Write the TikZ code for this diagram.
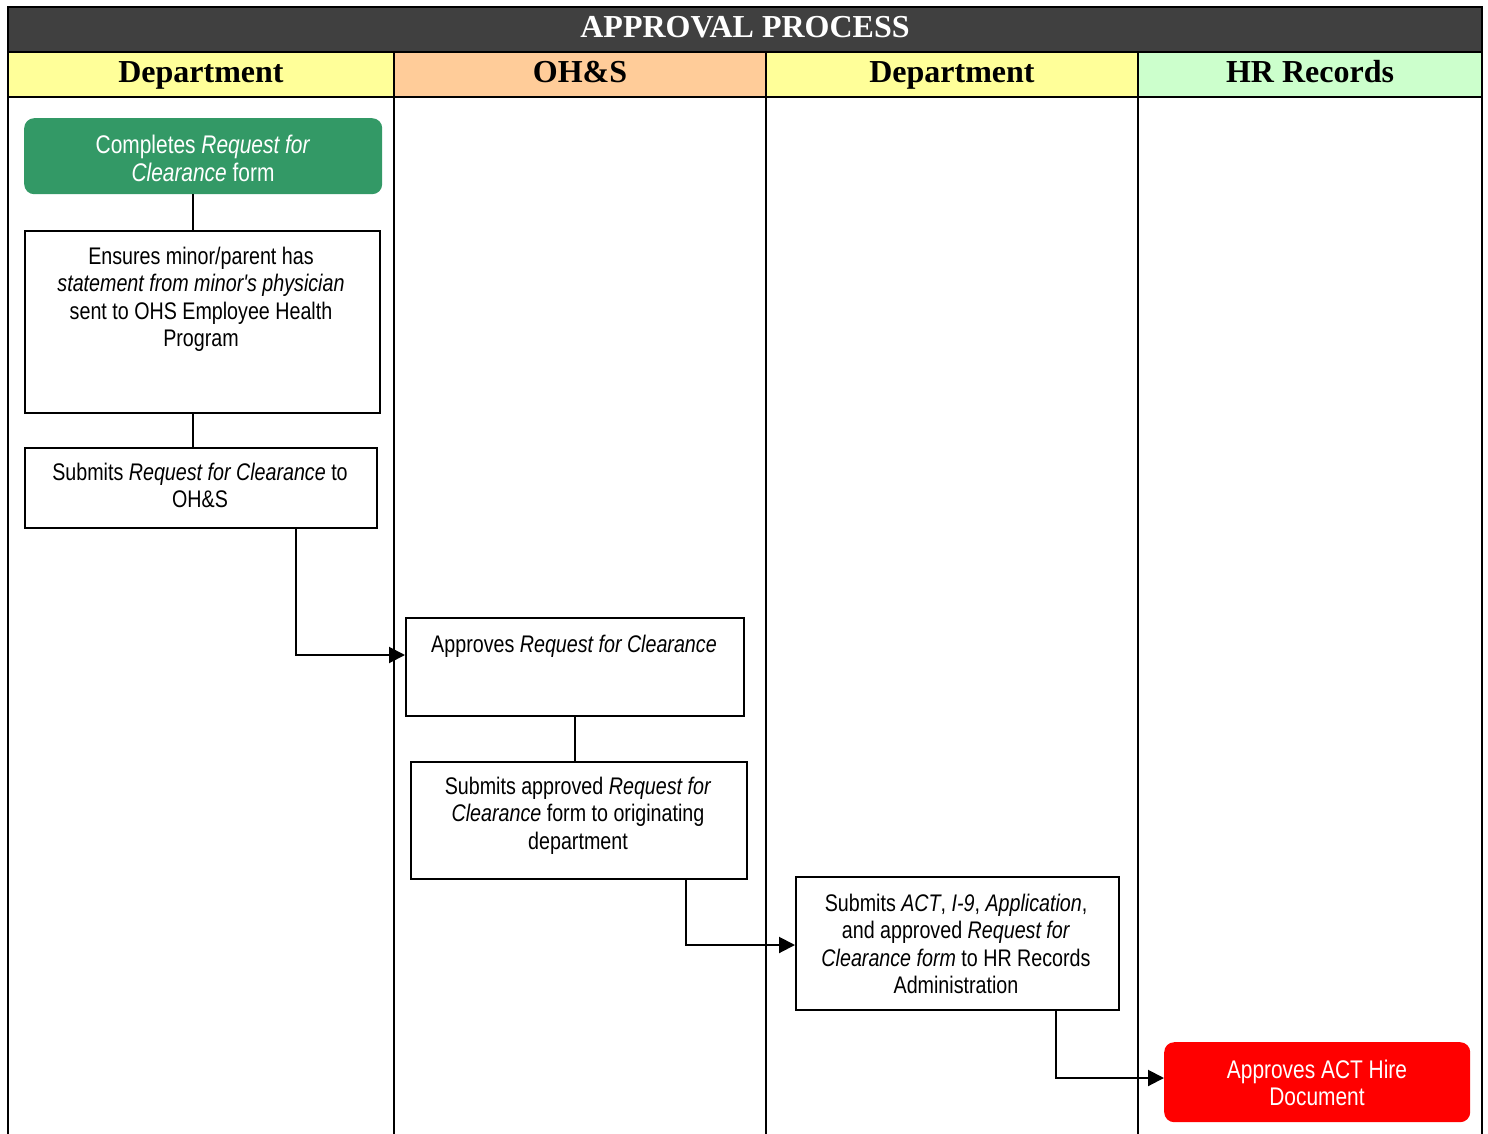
\documentclass[tikz,border=0pt]{standalone}
\usepackage{fontspec}
\setmainfont{Liberation Serif}
\newfontfamily\narrowfont[FakeStretch=0.82]{Liberation Sans}
\usetikzlibrary{arrows.meta}
\definecolor{titlegray}{HTML}{404040}
\definecolor{laneyellow}{HTML}{FFFF99}
\definecolor{laneorange}{HTML}{FFCC99}
\definecolor{lanegreen}{HTML}{CCFFCC}
\definecolor{startgreen}{HTML}{339966}
\definecolor{endred}{HTML}{FF0000}
\tikzset{
  boxnode/.style={draw=black, line width=2pt, anchor=north west, inner sep=0pt},
  roundnode/.style={draw=none, rounded corners=10pt, anchor=north west, inner sep=0pt},
  txt/.style={anchor=base, align=center, inner sep=0pt, font=\narrowfont\fontsize{24}{27.6}\selectfont},
  whitetxt/.style={txt, text=white, font=\narrowfont\fontsize{25.5}{27.4}\selectfont},
  lanehead/.style={anchor=base, inner sep=0pt, font=\bfseries\fontsize{32}{36}\selectfont},
  conn/.style={line width=2pt},
  flow/.style={line width=2pt, -{Triangle[length=16pt,width=16pt]}},
  laneline/.style={line width=2pt}
}
\begin{document}
\begin{tikzpicture}[x=1pt,y=-1pt]
\useasboundingbox (0,0) rectangle (1488,1134);
% title and headers
\fill[titlegray] (8,7) rectangle (1482,52);
\fill[laneyellow] (8,52) rectangle (394,97);
\fill[laneorange] (394,52) rectangle (766,97);
\fill[laneyellow] (766,52) rectangle (1138,97);
\fill[lanegreen] (1138,52) rectangle (1482,97);
\node[lanehead, text=white] (title) at (745,38) {APPROVAL PROCESS};
\node[lanehead] (h1) at (201,83) {Department};
\node[lanehead] (h2) at (580,83) {OH\&S};
\node[lanehead] (h3) at (952,83) {Department};
\node[lanehead] (h4) at (1310,83) {HR Records};
% lane lines
\draw[laneline] (8,7) rectangle (1482,1140);
\draw[laneline] (8,52) -- (1482,52);
\draw[laneline] (8,97) -- (1482,97);
\draw[laneline] (394,52) -- (394,1140);
\draw[laneline] (766,52) -- (766,1140);
\draw[laneline] (1138,52) -- (1138,1140);
% nodes (text nodes anchored at the baseline of their last line)
\node[roundnode, fill=startgreen, minimum width=358pt, minimum height=76pt] (n1) at (24,118) {};
\node[whitetxt] (t1) at (203,181.4) {Completes \textit{Request for}\\\textit{Clearance} form};
\node[boxnode, minimum width=355pt, minimum height=182pt] (n2) at (24,230) {};
\node[txt] (t2) at (201,346.8) {Ensures minor/parent has\\\textit{statement from minor's physician}\\sent to OHS Employee Health\\Program};
\node[boxnode, minimum width=352pt, minimum height=80pt] (n3) at (24,447) {};
\node[txt] (t3) at (200,507.6) {Submits \textit{Request for Clearance} to\\OH\&S};
\node[boxnode, minimum width=338pt, minimum height=98pt] (n4) at (405,617) {};
\node[txt] (t4) at (574,652) {Approves \textit{Request for Clearance}};
\node[boxnode, minimum width=336pt, minimum height=117pt] (n5) at (410,761) {};
\node[txt] (t5) at (578,849.2) {Submits approved \textit{Request for}\\\textit{Clearance} form to originating\\department};
\node[boxnode, minimum width=323pt, minimum height=133pt] (n6) at (795,876) {};
\node[txt] (t6) at (956,993.8) {Submits \textit{ACT}, \textit{I-9}, \textit{Application},\\and approved \textit{Request for}\\\textit{Clearance form} to HR Records\\Administration};
\node[roundnode, fill=endred, minimum width=306pt, minimum height=80pt] (n7) at (1164,1042) {};
\node[whitetxt] (t7) at (1317,1105.4) {Approves ACT Hire\\Document};
% connectors
\draw[conn] (n1.south -| 193,0) -- (n2.north -| 193,0);
\draw[conn] (n2.south -| 193,0) -- (n3.north -| 193,0);
\draw[flow] (n3.south -| 296,0) |- (n4.west |- 0,655);
\draw[conn] (n4.south -| 575,0) -- (n5.north -| 575,0);
\draw[flow] (n5.south -| 686,0) |- (n6.west |- 0,945);
\draw[flow] (n6.south -| 1056,0) |- (n7.west |- 0,1078);
\end{tikzpicture}
\end{document}
